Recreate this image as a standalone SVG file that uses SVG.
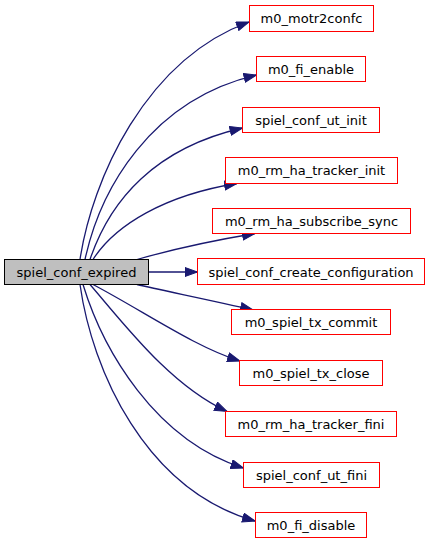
<svg xmlns="http://www.w3.org/2000/svg" width="431" height="544" viewBox="0 0 431 544">
<defs>
<style>
.n rect{fill:#ffffff;stroke:#ff0000;stroke-width:1}
.m rect{fill:#bfbfbf;stroke:#000000;stroke-width:1}
text{font-family:"DejaVu Sans",sans-serif;font-size:13px;fill:#000000;text-anchor:middle}
.e path{fill:none;stroke:#191970;stroke-width:1.3;marker-end:url(#ah)}
</style>
<marker id="ah" markerUnits="userSpaceOnUse" markerWidth="15" markerHeight="11" refX="13" refY="5" orient="auto">
<path d="M0.5,0.5 L13,5 L0.5,9.5 Z" fill="#191970" stroke="#191970" stroke-width="1"/>
</marker>
</defs>
<rect width="431" height="544" fill="#ffffff"/>
<g id="edges" class="e">
<path d="M80,259.5 C92,180 145,60 249,22"/>
<path d="M85,259.5 C100,190 150,100 256.5,75"/>
<path d="M90,259.5 C110,200 155,148 242.5,128"/>
<path d="M93,259.5 C115,225 165,195 237,183.5"/>
<path d="M137,259.5 C170,250 210,241 255,233.5"/>
<path d="M148.5,272 L197.5,272"/>
<path d="M137,284.5 C160,290 215,301 253,310"/>
<path d="M93,284.5 C145,312 195,347 240,361"/>
<path d="M90,284.5 C125,325 170,385 227,411.5"/>
<path d="M83,284.5 C103,350 155,440 243.5,468"/>
<path d="M80,284.5 C92,370 145,490 255,521"/>
</g>
<g id="spiel_conf_expired" class="m"><rect x="4.5" y="259.5" width="144" height="25"/><text x="76.5" y="276.5">spiel_conf_expired</text></g>
<g id="m0_motr2confc" class="n"><rect x="249.5" y="5.5" width="124" height="26"/><text x="311.5" y="23">m0_motr2confc</text></g>
<g id="m0_fi_enable" class="n"><rect x="256.5" y="56.5" width="109" height="25"/><text x="311" y="73.5">m0_fi_enable</text></g>
<g id="spiel_conf_ut_init" class="n"><rect x="242.5" y="107.5" width="137" height="25"/><text x="311" y="124.5">spiel_conf_ut_init</text></g>
<g id="m0_rm_ha_tracker_init" class="n"><rect x="225.5" y="157.5" width="172" height="26"/><text x="311.5" y="175">m0_rm_ha_tracker_init</text></g>
<g id="m0_rm_ha_subscribe_sync" class="n"><rect x="212.5" y="208.5" width="198" height="25"/><text x="311.5" y="225.5">m0_rm_ha_subscribe_sync</text></g>
<g id="spiel_conf_create_configuration" class="n"><rect x="197.5" y="258.5" width="227" height="26"/><text x="311" y="276.5">spiel_conf_create_configuration</text></g>
<g id="m0_spiel_tx_commit" class="n"><rect x="231.5" y="309.5" width="159" height="25"/><text x="311" y="326.5">m0_spiel_tx_commit</text></g>
<g id="m0_spiel_tx_close" class="n"><rect x="239.5" y="360.5" width="143" height="25"/><text x="311" y="377.5">m0_spiel_tx_close</text></g>
<g id="m0_rm_ha_tracker_fini" class="n"><rect x="225.5" y="411.5" width="171" height="25"/><text x="311" y="428.5">m0_rm_ha_tracker_fini</text></g>
<g id="spiel_conf_ut_fini" class="n"><rect x="243.5" y="462.5" width="136" height="25"/><text x="311.5" y="479.5">spiel_conf_ut_fini</text></g>
<g id="m0_fi_disable" class="n"><rect x="255.5" y="512.5" width="111" height="25"/><text x="311" y="529.5">m0_fi_disable</text></g>
</svg>
